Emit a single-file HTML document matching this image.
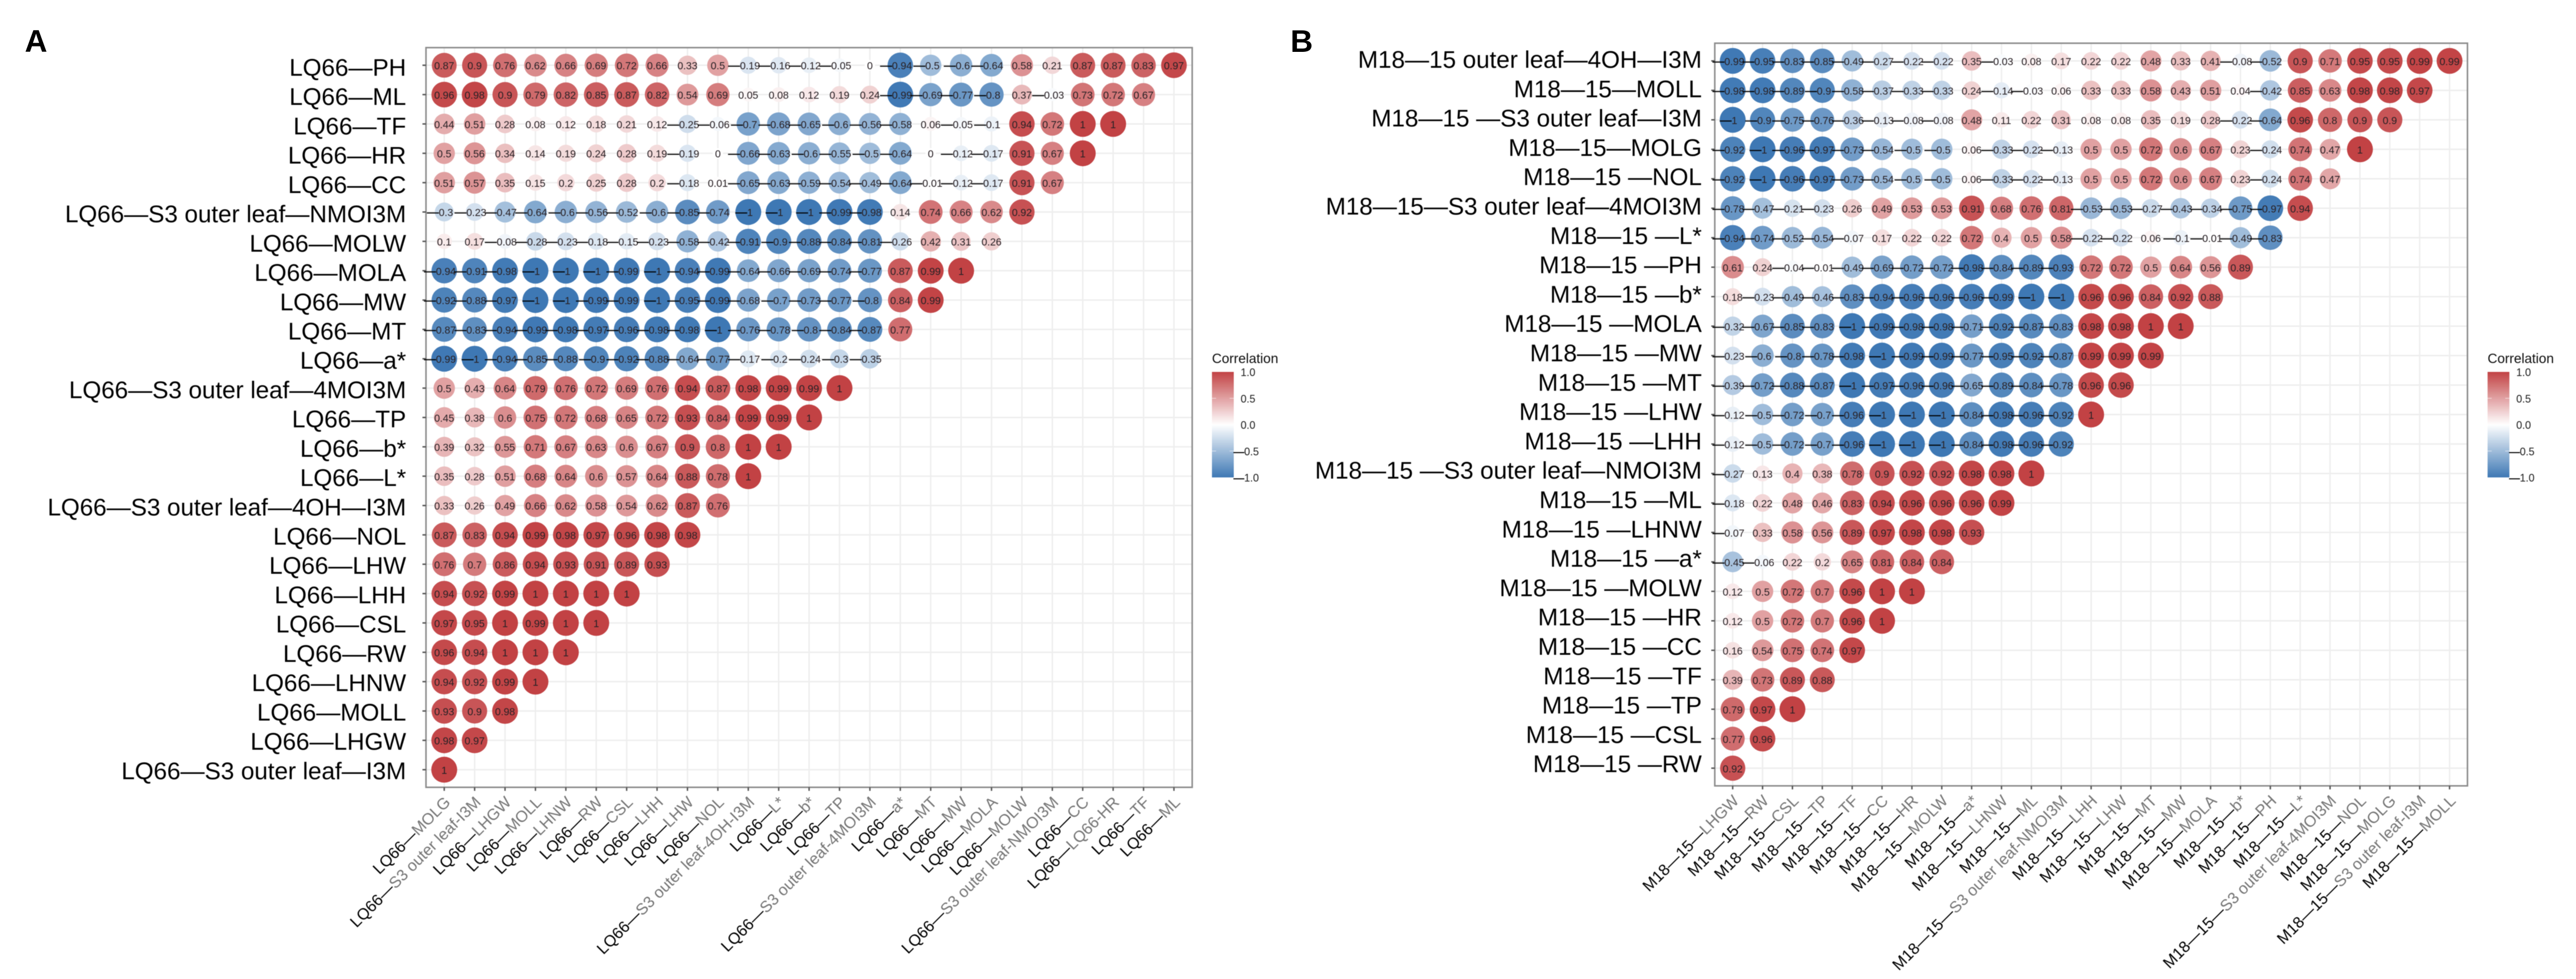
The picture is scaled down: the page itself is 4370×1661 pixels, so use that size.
<!DOCTYPE html>
<html lang="en">
<head>
<meta charset="utf-8">
<title>Correlation matrices for LQ66 and M18-15</title>
<style>
html,body{margin:0;padding:0;background:#fff;}
svg{display:block;font-family:"Liberation Sans",Arial,sans-serif;}
#panelA,#panelB{filter:blur(0.5px);}
</style>
</head>
<body>
<svg id="figure" xmlns="http://www.w3.org/2000/svg" width="4370" height="1661" viewBox="0 0 4370 1661">
  <rect x="0" y="0" width="4370" height="1661" fill="#ffffff"/>
  <defs id="defs"></defs>
  <text x="42" y="88" font-size="53" font-weight="bold" fill="#000">A</text>
  <text x="2189" y="88" font-size="53" font-weight="bold" fill="#000">B</text>
  <g id="panelA"></g>
  <g id="panelB"></g>
</svg>
<script>
const rowLabelsA = ["LQ66—PH","LQ66—ML","LQ66—TF","LQ66—HR","LQ66—CC","LQ66—S3 outer leaf—NMOI3M","LQ66—MOLW","LQ66—MOLA","LQ66—MW","LQ66—MT","LQ66—a*","LQ66—S3 outer leaf—4MOI3M","LQ66—TP","LQ66—b*","LQ66—L*","LQ66—S3 outer leaf—4OH—I3M","LQ66—NOL","LQ66—LHW","LQ66—LHH","LQ66—CSL","LQ66—RW","LQ66—LHNW","LQ66—MOLL","LQ66—LHGW","LQ66—S3 outer leaf—I3M"];
const colPrefixA = "LQ66—";
const colLabelsA = ["MOLG","S3 outer leaf-I3M","LHGW","MOLL","LHNW","RW","CSL","LHH","LHW","NOL","S3 outer leaf-4OH-I3M","L*","b*","TP","S3 outer leaf-4MOI3M","a*","MT","MW","MOLA","MOLW","S3 outer leaf-NMOI3M","CC","LQ66-HR","TF","ML"];
const valuesA = [
[0.87,0.9,0.76,0.62,0.66,0.69,0.72,0.66,0.33,0.5,-0.19,-0.16,-0.12,-0.05,0,-0.94,-0.5,-0.6,-0.64,0.58,0.21,0.87,0.87,0.83,0.97],
[0.96,0.98,0.9,0.79,0.82,0.85,0.87,0.82,0.54,0.69,0.05,0.08,0.12,0.19,0.24,-0.99,-0.69,-0.77,-0.8,0.37,-0.03,0.73,0.72,0.67],
[0.44,0.51,0.28,0.08,0.12,0.18,0.21,0.12,-0.25,-0.06,-0.7,-0.68,-0.65,-0.6,-0.56,-0.58,0.06,-0.05,-0.1,0.94,0.72,1,1],
[0.5,0.56,0.34,0.14,0.19,0.24,0.28,0.19,-0.19,0,-0.66,-0.63,-0.6,-0.55,-0.5,-0.64,0,-0.12,-0.17,0.91,0.67,1],
[0.51,0.57,0.35,0.15,0.2,0.25,0.28,0.2,-0.18,0.01,-0.65,-0.63,-0.59,-0.54,-0.49,-0.64,-0.01,-0.12,-0.17,0.91,0.67],
[-0.3,-0.23,-0.47,-0.64,-0.6,-0.56,-0.52,-0.6,-0.85,-0.74,-1,-1,-1,-0.99,-0.98,0.14,0.74,0.66,0.62,0.92],
[0.1,0.17,-0.08,-0.28,-0.23,-0.18,-0.15,-0.23,-0.58,-0.42,-0.91,-0.9,-0.88,-0.84,-0.81,-0.26,0.42,0.31,0.26],
[-0.94,-0.91,-0.98,-1,-1,-1,-0.99,-1,-0.94,-0.99,-0.64,-0.66,-0.69,-0.74,-0.77,0.87,0.99,1],
[-0.92,-0.88,-0.97,-1,-1,-0.99,-0.99,-1,-0.95,-0.99,-0.68,-0.7,-0.73,-0.77,-0.8,0.84,0.99],
[-0.87,-0.83,-0.94,-0.99,-0.98,-0.97,-0.96,-0.98,-0.98,-1,-0.76,-0.78,-0.8,-0.84,-0.87,0.77],
[-0.99,-1,-0.94,-0.85,-0.88,-0.9,-0.92,-0.88,-0.64,-0.77,-0.17,-0.2,-0.24,-0.3,-0.35],
[0.5,0.43,0.64,0.79,0.76,0.72,0.69,0.76,0.94,0.87,0.98,0.99,0.99,1],
[0.45,0.38,0.6,0.75,0.72,0.68,0.65,0.72,0.93,0.84,0.99,0.99,1],
[0.39,0.32,0.55,0.71,0.67,0.63,0.6,0.67,0.9,0.8,1,1],
[0.35,0.28,0.51,0.68,0.64,0.6,0.57,0.64,0.88,0.78,1],
[0.33,0.26,0.49,0.66,0.62,0.58,0.54,0.62,0.87,0.76],
[0.87,0.83,0.94,0.99,0.98,0.97,0.96,0.98,0.98],
[0.76,0.7,0.86,0.94,0.93,0.91,0.89,0.93],
[0.94,0.92,0.99,1,1,1,1],
[0.97,0.95,1,0.99,1,1],
[0.96,0.94,1,1,1],
[0.94,0.92,0.99,1],
[0.93,0.9,0.98],
[0.98,0.97],
[1]
];

const rowLabelsB = ["M18—15 outer leaf—4OH—I3M","M18—15—MOLL","M18—15 —S3 outer leaf—I3M","M18—15—MOLG","M18—15 —NOL","M18—15—S3 outer leaf—4MOI3M","M18—15 —L*","M18—15 —PH","M18—15 —b*","M18—15 —MOLA","M18—15 —MW","M18—15 —MT","M18—15 —LHW","M18—15 —LHH","M18—15 —S3 outer leaf—NMOI3M","M18—15 —ML","M18—15 —LHNW","M18—15 —a*","M18—15 —MOLW","M18—15 —HR","M18—15 —CC","M18—15 —TF","M18—15 —TP","M18—15 —CSL","M18—15 —RW"];
const colPrefixB = "M18—15—";
const colLabelsB = ["LHGW","RW","CSL","TP","TF","CC","HR","MOLW","a*","LHNW","ML","S3 outer leaf-NMOI3M","LHH","LHW","MT","MW","MOLA","b*","PH","L*","S3 outer leaf-4MOI3M","NOL","MOLG","S3 outer leaf-I3M","MOLL"];
const valuesB = [
[-0.99,-0.95,-0.83,-0.85,-0.49,-0.27,-0.22,-0.22,0.35,-0.03,0.08,0.17,0.22,0.22,0.48,0.33,0.41,-0.08,-0.52,0.9,0.71,0.95,0.95,0.99,0.99],
[-0.98,-0.98,-0.89,-0.9,-0.58,-0.37,-0.33,-0.33,0.24,-0.14,-0.03,0.06,0.33,0.33,0.58,0.43,0.51,0.04,-0.42,0.85,0.63,0.98,0.98,0.97],
[-1,-0.9,-0.75,-0.76,-0.36,-0.13,-0.08,-0.08,0.48,0.11,0.22,0.31,0.08,0.08,0.35,0.19,0.28,-0.22,-0.64,0.96,0.8,0.9,0.9],
[-0.92,-1,-0.96,-0.97,-0.73,-0.54,-0.5,-0.5,0.06,-0.33,-0.22,-0.13,0.5,0.5,0.72,0.6,0.67,0.23,-0.24,0.74,0.47,1],
[-0.92,-1,-0.96,-0.97,-0.73,-0.54,-0.5,-0.5,0.06,-0.33,-0.22,-0.13,0.5,0.5,0.72,0.6,0.67,0.23,-0.24,0.74,0.47],
[-0.78,-0.47,-0.21,-0.23,0.26,0.49,0.53,0.53,0.91,0.68,0.76,0.81,-0.53,-0.53,-0.27,-0.43,-0.34,-0.75,-0.97,0.94],
[-0.94,-0.74,-0.52,-0.54,-0.07,0.17,0.22,0.22,0.72,0.4,0.5,0.58,-0.22,-0.22,0.06,-0.1,-0.01,-0.49,-0.83],
[0.61,0.24,-0.04,-0.01,-0.49,-0.69,-0.72,-0.72,-0.98,-0.84,-0.89,-0.93,0.72,0.72,0.5,0.64,0.56,0.89],
[0.18,-0.23,-0.49,-0.46,-0.83,-0.94,-0.96,-0.96,-0.96,-0.99,-1,-1,0.96,0.96,0.84,0.92,0.88],
[-0.32,-0.67,-0.85,-0.83,-1,-0.99,-0.98,-0.98,-0.71,-0.92,-0.87,-0.83,0.98,0.98,1,1],
[-0.23,-0.6,-0.8,-0.78,-0.98,-1,-0.99,-0.99,-0.77,-0.95,-0.92,-0.87,0.99,0.99,0.99],
[-0.39,-0.72,-0.88,-0.87,-1,-0.97,-0.96,-0.96,-0.65,-0.89,-0.84,-0.78,0.96,0.96],
[-0.12,-0.5,-0.72,-0.7,-0.96,-1,-1,-1,-0.84,-0.98,-0.96,-0.92,1],
[-0.12,-0.5,-0.72,-0.7,-0.96,-1,-1,-1,-0.84,-0.98,-0.96,-0.92],
[-0.27,0.13,0.4,0.38,0.78,0.9,0.92,0.92,0.98,0.98,1],
[-0.18,0.22,0.48,0.46,0.83,0.94,0.96,0.96,0.96,0.99],
[-0.07,0.33,0.58,0.56,0.89,0.97,0.98,0.98,0.93],
[-0.45,-0.06,0.22,0.2,0.65,0.81,0.84,0.84],
[0.12,0.5,0.72,0.7,0.96,1,1],
[0.12,0.5,0.72,0.7,0.96,1],
[0.16,0.54,0.75,0.74,0.97],
[0.39,0.73,0.89,0.88],
[0.79,0.97,1],
[0.77,0.96],
[0.92]
];

const legendBreaks = [1, 0.5, 0, -0.5, -1];
const legendTitle = "Correlation";

const SVGNS = "http://www.w3.org/2000/svg";
const highRGB = [194, 66, 68];
const midRGB = [255, 255, 255];
const lowRGB = [62, 120, 180];

function fillColor(v) {
  const target = v >= 0 ? highRGB : lowRGB;
  const t = Math.min(1, Math.abs(v));
  const c = midRGB.map(function (m, k) { return Math.round(m + (target[k] - m) * t); });
  return "rgb(" + c.join(",") + ")";
}
function circleDiameter(v) {
  return 17.6 + 26.4 * Math.sqrt(Math.abs(v));
}
function make(tag, parent, attrs) {
  const node = document.createElementNS(SVGNS, tag);
  Object.keys(attrs).forEach(function (k) { node.setAttribute(k, attrs[k]); });
  parent.appendChild(node);
  return node;
}
function digitsWidth(s) {
  let w = 0;
  for (const ch of s) w += ch === "." ? 0.278 : 0.556;
  return w;
}

function drawPanel(root, cfg, rowLabels, colPrefix, colLabels, values) {
  const xScale = function (i) { return cfg.x0 + i * cfg.dx; };
  const yScale = function (j) { return cfg.y0 + j * cfg.dy; };
  const left = xScale(0) - 0.6 * cfg.dx;
  const right = xScale(colLabels.length - 1) + 0.6 * cfg.dx;
  const top = yScale(0) - 0.6 * cfg.dy;
  const bottom = yScale(rowLabels.length - 1) + 0.6 * cfg.dy;

  const gridG = make("g", root, { stroke: "#eeeeee", "stroke-width": 2.4 });
  
  
  colLabels.forEach(function (_, i) {
    const gl = make("line", gridG, { x1: xScale(i), x2: xScale(i), y1: top, y2: bottom });
    
    
  });
  rowLabels.forEach(function (_, j) {
    const gl = make("line", gridG, { x1: left, x2: right, y1: yScale(j), y2: yScale(j) });
    
    
  });

  const border = make("rect", root, { x: left, y: top, width: right - left, height: bottom - top, fill: "none", stroke: "#8c8c8c", "stroke-width": 2.6 });
  
  

  rowLabels.forEach(function (label, j) {
    const tick = make("line", root, { x1: left - 6, x2: left, y1: yScale(j), y2: yScale(j), stroke: "#555", "stroke-width": 2.4 });
    
    
    const t = make("text", root, { x: cfg.yLabelX, y: cfg.yLabelBase + j * cfg.yLabelStep, "text-anchor": "end", "font-size": 41, fill: "#000" });
    t.textContent = label;
    
    
  });

  colLabels.forEach(function (label, i) {
    const tick = make("line", root, { x1: xScale(i), x2: xScale(i), y1: bottom, y2: bottom + 6, stroke: "#555", "stroke-width": 2.4 });
    
    
    const ex = xScale(i) + 12;
    const ey = bottom + 27;
    const t = make("text", root, { x: ex, y: ey, "text-anchor": "end", "font-size": 27, transform: "rotate(-45 " + ex + " " + ey + ")" });
    
    
    const a = make("tspan", t, { fill: "#000" });
    a.textContent = colPrefix;
    const b = make("tspan", t, { fill: "#777" });
    b.textContent = label;
  });

  const fs = cfg.valueFont;
  values.forEach(function (row, j) {
    row.forEach(function (v, i) {
      const cx = xScale(i);
      const cy = yScale(j);
      const dot = make("circle", root, { cx: cx, cy: cy, r: circleDiameter(v) / 2, fill: fillColor(v) });
      
      
    });
  });
  values.forEach(function (row, j) {
    row.forEach(function (v, i) {
      const cx = xScale(i);
      const cy = yScale(j);
      const abs = String(Math.abs(v));
      const base = cy + 7;
      let t;
      if (v < 0) {
        const w = digitsWidth(abs) + 0.333;
        const start = cx - (w / 2) * fs + 0.333 * fs;
        t = make("text", root, { x: start - 20, y: base, "font-size": fs, "fill": "#2a2226" });
        const d = make("tspan", t, { "font-size": 20, fill: "#000", stroke: "#000", "stroke-width": 0.4 });
        d.textContent = "—";
        const n = make("tspan", t, {});
        n.textContent = abs;
      } else {
        t = make("text", root, { x: cx, y: base, "text-anchor": "middle", "font-size": fs, "fill": "#2a2226" });
        t.textContent = abs;
      }
      
      
    });
  });

  // legend
  const defs = document.getElementById("defs");
  const grad = make("linearGradient", defs, { id: cfg.gradId, x1: 0, y1: 0, x2: 0, y2: 1 });
  for (let s = 0; s <= 20; s++) {
    make("stop", grad, { offset: (s / 20), "stop-color": fillColor(1 - s / 10) });
  }
  const lg = make("g", root, {});
  
  
  const title = make("text", lg, { x: cfg.legendX, y: cfg.legendTop - 15, "font-size": 23, fill: "#111" });
  title.textContent = legendTitle;
  
  
  const bar = make("rect", lg, { x: cfg.legendX, y: cfg.legendTop, width: 37, height: cfg.legendH, fill: "url(#" + cfg.gradId + ")" });
  
  
  const legendY = function (b) { return cfg.legendTop + (1 - b) / 2 * cfg.legendH; };
  legendBreaks.forEach(function (b) {
    const y = legendY(b);
    if (Math.abs(b) < 1) {
      const w1 = make("line", lg, { x1: cfg.legendX, x2: cfg.legendX + 7, y1: y, y2: y, stroke: "#fff", "stroke-width": 1.2, opacity: 0.6 });
      
      
      const w2 = make("line", lg, { x1: cfg.legendX + 30, x2: cfg.legendX + 37, y1: y, y2: y, stroke: "#fff", "stroke-width": 1.2, opacity: 0.6 });
      
      
    }
    const txt = b.toFixed(1).replace("-", "");
    const lx = cfg.legendX + 48.6;
    let lab;
    if (b < 0) {
      lab = make("text", lg, { x: lx + 6 - 18, y: y + 7, "font-size": 18, fill: "#222" });
      const d = make("tspan", lab, { fill: "#000", stroke: "#000", "stroke-width": 0.5 });
      d.textContent = "—";
      const n = make("tspan", lab, {});
      n.textContent = txt;
    } else {
      lab = make("text", lg, { x: lx, y: y + 7, "font-size": 18, fill: "#222" });
      lab.textContent = txt;
    }
    
    
  });
}

const layoutA = { x0: 753.6, dx: 51.58, y0: 110.7, dy: 49.8, yLabelX: 689, yLabelBase: 128.5, yLabelStep: 49.72, valueFont: 17.5, legendX: 2056, legendTop: 631, legendH: 179, gradId: "legendGradA" };
const layoutB = { x0: 2939.4, dx: 50.67, y0: 103.3, dy: 50.0, yLabelX: 2887, yLabelBase: 115, yLabelStep: 49.8, valueFont: 17.5, legendX: 4220, legendTop: 631, legendH: 179, gradId: "legendGradB" };

drawPanel(document.getElementById("panelA"), layoutA, rowLabelsA, colPrefixA, colLabelsA, valuesA);
drawPanel(document.getElementById("panelB"), layoutB, rowLabelsB, colPrefixB, colLabelsB, valuesB);
</script>
</body>
</html>
